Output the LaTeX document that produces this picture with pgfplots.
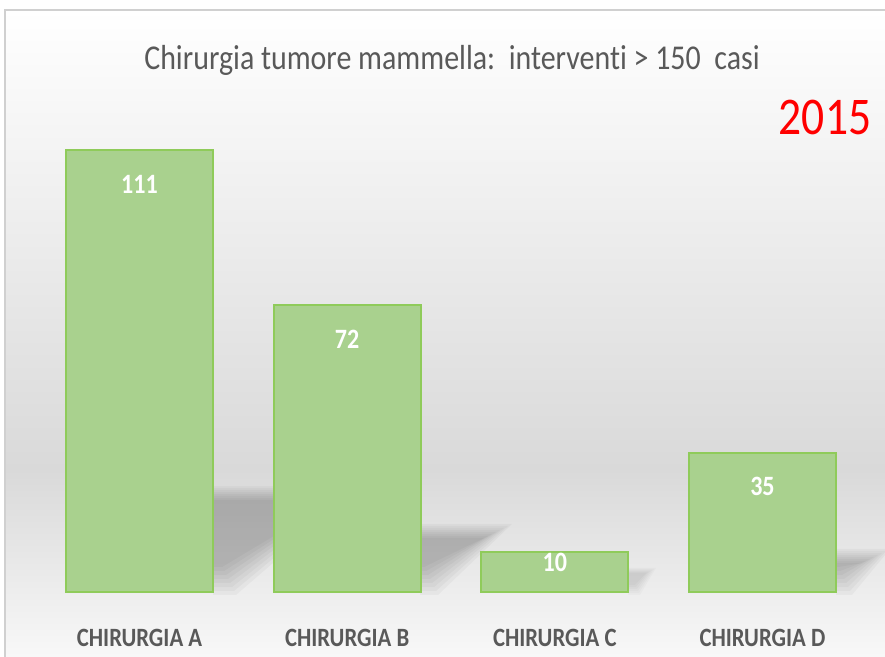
\documentclass[border=0pt]{standalone}
\usepackage{fontspec}
\setmainfont{Carlito}[FakeStretch=0.86,Ligatures=NoCommon]
\usepackage{pgfplots}
\pgfplotsset{compat=1.18}
\definecolor{barfill}{HTML}{A9D18E}
\definecolor{baredge}{HTML}{8FCB5A}
\definecolor{txtgray}{HTML}{595959}
\definecolor{bgdark}{HTML}{D9D9D9}
\definecolor{bgbot}{HTML}{F8F8F8}
\definecolor{framec}{HTML}{D0D0D0}
\begin{document}
\begin{tikzpicture}[x=1pt,y=1pt]
\path[use as bounding box] (0,0) rectangle (442.5,328.5);
\shade[top color=white,bottom color=bgdark] (2.5,93.5) rectangle (442.5,323.5);
\shade[top color=bgdark,bottom color=bgbot] (2.5,0) rectangle (442.5,93.6);
\draw[framec, line width=1.2pt] (2.5,0) -- (2.5,323.5) -- (442.5,323.5);
% soft bar shadows (decoration), built from stacked translucent layers; x = pixel, y = 657 - pixel
\begin{scope}[x=0.5pt,y=0.5pt]
\clip (5,0) rectangle (885,647);
\foreach \t in {0,1,2,3,4,5,6,7}{
  \fill[black, fill opacity=0.03]
    (213,171-2*\t) -- (362-4*\t,171-2*\t) -- (236-2*\t,62+4*\t) -- (213,62+4*\t) -- cycle;
  \fill[black, fill opacity=0.03]
    (420,133-2*\t) -- (512-4*\t,133-2*\t) -- (438-2*\t,62+4*\t) -- (420,62+4*\t) -- cycle;
  \fill[black, fill opacity=0.03]
    (836,108-2*\t) -- (890-4*\t,108-2*\t) -- (852-2*\t,62+4*\t) -- (836,62+4*\t) -- cycle;
}
\foreach \t in {0,1,2,3,4,5}{
  \fill[black, fill opacity=0.02]
    (628,89-\t) -- (656-2*\t,89-\t) -- (640-\t,62+2*\t) -- (628,62+2*\t) -- cycle;
}
\end{scope}
\begin{axis}[
  at={(17.85pt,32.5pt)}, anchor=south west,
  scale only axis, width=415.3pt, height=238.8pt,
  xmin=-0.5, xmax=3.5, ymin=0, ymax=120,
  axis line style={draw=none}, tick style={draw=none},
  ytick=\empty, xtick={0,1,2,3},
  xticklabels={CHIRURGIA A,CHIRURGIA B,CHIRURGIA C,CHIRURGIA D},
  xticklabel style={anchor=base, yshift=-23pt, text=txtgray, font=\bfseries\fontsize{13.2}{14}\selectfont},
  ybar, bar width=73.5pt, bar shift=0pt, clip=false,
  /pgf/number format/assume math mode=true,
]
\addplot[fill=barfill, draw=baredge, line width=1pt] coordinates {(0,111) (1,72) (2,10) (3,35)};
\addplot[draw=none, fill=none, nodes near coords,
  every node near coord/.append style={anchor=base, yshift=-21.5pt, text=white, font=\bfseries\fontsize{14}{15}\selectfont}]
  coordinates {(0,111) (1,72) (3,35)};
\addplot[draw=none, fill=none, nodes near coords,
  every node near coord/.append style={anchor=base, yshift=-9.5pt, text=white, font=\bfseries\fontsize{14}{15}\selectfont}]
  coordinates {(2,10)};
\end{axis}
\node[anchor=base, text=txtgray, font=\fontsize{17.4}{19}\selectfont] at (226,293.5) {Chirurgia tumore mammella:\ \ interventi > 150\ \ casi};
\node[anchor=base, text=red, font=\fontsize{26.5}{28}\selectfont] at (412.5,261) {2015};
\end{tikzpicture}
\end{document}
